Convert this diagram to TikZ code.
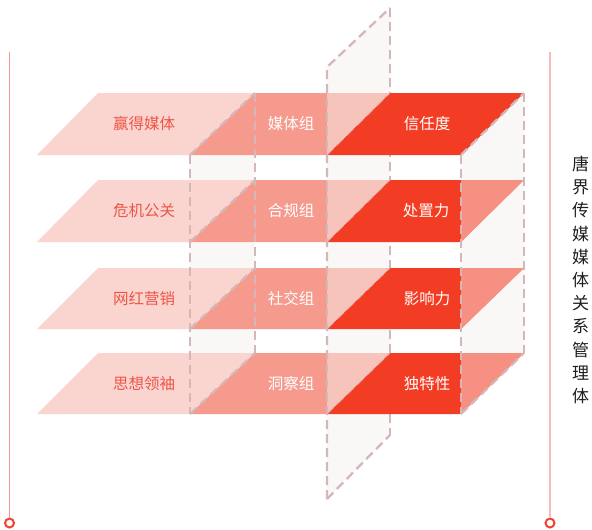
\documentclass[tikz,border=0pt]{standalone}
\usepackage{fontspec}
\newfontfamily\cjk{Noto Sans CJK SC}
\definecolor{lpink}{HTML}{FAD5D0}
\definecolor{mpink}{HTML}{F59A8C}
\definecolor{redc}{HTML}{F33C24}
\definecolor{planefill}{HTML}{FAF8F7}
\definecolor{dashc}{HTML}{D4B8B9}
\definecolor{labred}{HTML}{EE5446}
\definecolor{linel}{HTML}{F29894}
\definecolor{liner}{HTML}{F8BBBA}
\definecolor{circc}{HTML}{EE4336}
\tikzset{
  planedash/.style={draw=dashc,line width=2.3pt,dash pattern=on 9pt off 5pt},
  faintdash/.style={draw=dashc,line width=1.2pt,dash pattern=on 9pt off 5pt,draw opacity=0.6},
  overlay/.style={fill=planefill,fill opacity=0.45},
  lablight/.style={font=\cjk\fontsize{15.5}{18}\selectfont,text=labred,inner sep=0pt},
  labwhite/.style={font=\cjk\fontsize{15.5}{18}\selectfont,text=white,inner sep=0pt},
  endcirc/.style={draw=circc,line width=2pt,fill=white,circle,minimum size=9pt,inner sep=0pt}
}
\begin{document}
\begin{tikzpicture}[x=1pt,y=-1pt]
\fill[white] (0,0) rectangle (592,530);
\useasboundingbox (0,0) rectangle (592,530);
% side lines
\coordinate (ltop) at (9.5,52);
\node[endcirc] (lend) at (9.5,523) {};
\draw[linel,line width=1.6pt] (ltop) -- (lend.north);
\coordinate (rtop) at (550,52);
\node[endcirc] (rend) at (550,523) {};
\draw[liner,line width=2pt] (rtop) -- (rend.north);
% vertical planes fill
\fill[planefill] (190,155) -- (255,93) -- (255,353) -- (190,414) -- cycle;
\fill[planefill] (327,67) -- (390,8) -- (390,435) -- (327,499) -- cycle;
\fill[planefill] (461,155) -- (524,93) -- (524,353) -- (461,414) -- cycle;
% right edge of plane B (hidden by red layers)
\draw[planedash] (390,8) -- (390,435);
% layers
\foreach \t/\b in {93/155,180/242,268/329,353/414}{
  \fill[lpink] (37,\b) -- (190,\b) -- (255,\t) -- (98,\t) -- cycle;
  \fill[mpink] (190,\b) -- (327,\b) -- (390,\t) -- (255,\t) -- cycle;
  \fill[redc] (327,\b) -- (461,\b) -- (524,\t) -- (390,\t) -- cycle;
  \fill[overlay] (327,\t) -- (390,\t) -- (327,\b) -- cycle;
  \draw[faintdash] (327,\b) -- (390,\t);
}
\foreach \t/\b in {180/242,268/329,353/414}{
  \fill[overlay] (461,\t) -- (524,\t) -- (461,\b) -- cycle;
}
% plane dashes
\draw[planedash] (327,499) -- (327,67) -- (390,8);
\draw[planedash] (327,499) -- (390,435);
\draw[planedash] (190,155) -- (190,414);
\draw[planedash] (255,93) -- (255,353);
\foreach \t/\b in {93/155,180/242,268/329,353/414}{
  \draw[planedash] (190,\b) -- (255,\t);
}
\draw[planedash] (461,155) -- (461,414);
\draw[planedash] (524,93) -- (524,353);
\draw[planedash] (461,155) -- (524,93);
\draw[planedash] (461,414) -- (524,353);
% labels
\node[lablight] (a1) at (144,124) {赢得媒体};
\node[labwhite] (b1) at (291,124) {媒体组};
\node[labwhite] (c1) at (427,124) {信任度};
\node[lablight] (a2) at (144,211) {危机公关};
\node[labwhite] (b2) at (291,211) {合规组};
\node[labwhite] (c2) at (426,211) {处置力};
\node[lablight] (a3) at (144,299) {网红营销};
\node[labwhite] (b3) at (291,299) {社交组};
\node[labwhite] (c3) at (427,299) {影响力};
\node[lablight] (a4) at (144,384) {思想领袖};
\node[labwhite] (b4) at (291,384) {洞察组};
\node[labwhite] (c4) at (427,384) {独特性};
% right title
\node[font=\cjk\fontsize{17}{23.2}\selectfont,text=black!88,align=center,inner sep=0pt] (title) at (580.5,280) {唐\\界\\传\\媒\\媒\\体\\关\\系\\管\\理\\体};
\end{tikzpicture}
\end{document}
